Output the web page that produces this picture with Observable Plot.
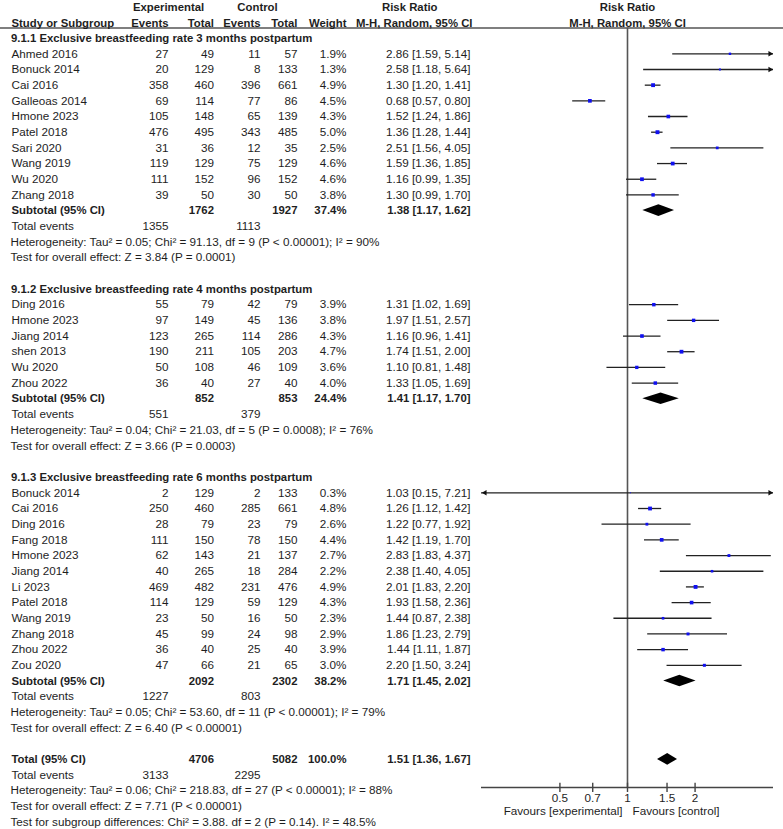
<!DOCTYPE html>
<html><head><meta charset="utf-8">
<script src="https://cdn.jsdelivr.net/npm/d3@7"></script>
<script src="https://cdn.jsdelivr.net/npm/@observablehq/plot@0.6"></script>
<style>
body{margin:0;background:#fff}
#chart svg{display:block;font-family:"Liberation Sans",Arial,sans-serif}
</style>
</head><body><div id="chart"></div>
<script>
// ---------------- DATA ----------------
const groupLabels = [
  "9.1.1 Exclusive breastfeeding rate 3 months postpartum",
  "9.1.2 Exclusive breastfeeding rate 4 months postpartum",
  "9.1.3 Exclusive breastfeeding rate 6 months postpartum"
];
const studyGroup = [0,0,0,0,0,0,0,0,0,0, 1,1,1,1,1,1, 2,2,2,2,2,2,2,2,2,2,2,2];
const studyNames = [
  "Ahmed 2016","Bonuck 2014","Cai 2016","Galleoas 2014","Hmone 2023","Patel 2018","Sari 2020","Wang 2019","Wu 2020","Zhang 2018",
  "Ding 2016","Hmone 2023","Jiang 2014","shen 2013","Wu 2020","Zhou 2022",
  "Bonuck 2014","Cai 2016","Ding 2016","Fang 2018","Hmone 2023","Jiang 2014","Li 2023","Patel 2018","Wang 2019","Zhang 2018","Zhou 2022","Zou 2020"
];
const expEvents = [27,20,358,69,105,476,31,119,111,39, 55,97,123,190,50,36, 2,250,28,111,62,40,469,114,23,45,36,47];
const expTotal  = [49,129,460,114,148,495,36,129,152,50, 79,149,265,211,108,40, 129,460,79,150,143,265,482,129,50,99,40,66];
const ctlEvents = [11,8,396,77,65,343,12,75,96,30, 42,45,114,105,46,27, 2,285,23,78,21,18,231,59,16,24,25,21];
const ctlTotal  = [57,133,661,86,139,485,35,129,152,50, 79,136,286,203,109,40, 133,661,79,150,137,284,476,129,50,98,40,65];
const weights   = [1.9,1.3,4.9,4.5,4.3,5.0,2.5,4.6,4.6,3.8, 3.9,3.8,4.3,4.7,3.6,4.0, 0.3,4.8,2.6,4.4,2.7,2.2,4.9,4.3,2.3,2.9,3.9,3.0];
const riskRatio = [2.86,2.58,1.30,0.68,1.52,1.36,2.51,1.59,1.16,1.30, 1.31,1.97,1.16,1.74,1.10,1.33, 1.03,1.26,1.22,1.42,2.83,2.38,2.01,1.93,1.44,1.86,1.44,2.20];
const ciLow     = [1.59,1.18,1.20,0.57,1.24,1.28,1.56,1.36,0.99,0.99, 1.02,1.51,0.96,1.51,0.81,1.05, 0.15,1.12,0.77,1.19,1.83,1.40,1.83,1.58,0.87,1.23,1.11,1.50];
const ciHigh    = [5.14,5.64,1.41,0.80,1.86,1.44,4.05,1.85,1.35,1.70, 1.69,2.57,1.41,2.00,1.48,1.69, 7.21,1.42,1.92,1.70,4.37,4.05,2.20,2.36,2.38,2.79,1.87,3.24];

const subExpTotal    = [1762, 852, 2092];
const subCtlTotal    = [1927, 853, 2302];
const subWeight      = [37.4, 24.4, 38.2];
const subRR          = [1.38, 1.41, 1.71];
const subLow         = [1.17, 1.17, 1.45];
const subHigh        = [1.62, 1.70, 2.02];
const subExpEvents   = [1355, 551, 1227];
const subCtlEvents   = [1113, 379, 803];
const subHeterogeneity = [
  "Heterogeneity: Tau² = 0.05; Chi² = 91.13, df = 9 (P < 0.00001); I² = 90%",
  "Heterogeneity: Tau² = 0.04; Chi² = 21.03, df = 5 (P = 0.0008); I² = 76%",
  "Heterogeneity: Tau² = 0.05; Chi² = 53.60, df = 11 (P < 0.00001); I² = 79%"
];
const subOverall = [
  "Test for overall effect: Z = 3.84 (P = 0.0001)",
  "Test for overall effect: Z = 3.66 (P = 0.0003)",
  "Test for overall effect: Z = 6.40 (P < 0.00001)"
];
const totalValues = [4706, 5082, 100.0, 1.51, 1.36, 1.67]; // exp total, ctl total, weight, RR, low, high
const totalEvents = [3133, 2295];
const totalNotes = [
  "Heterogeneity: Tau² = 0.06; Chi² = 218.83, df = 27 (P < 0.00001); I² = 88%",
  "Test for overall effect: Z = 7.71 (P < 0.00001)",
  "Test for subgroup differences: Chi² = 3.88. df = 2 (P = 0.14). I² = 48.5%"
];
const xTicks = [0.5, 0.7, 1, 1.5, 2];
const xLimit = 4.47;
const favourLabels = ["Favours [experimental]", "Favours [control]"];

// ---------------- LAYOUT ----------------
const W = 783, H = 829;
const FS = 11.7, FSB = 11.35;
const TEXT = "#1e1e1e";
const cols = {
  section: {dx: 10.5, anchor: "start"},
  name:    {dx: 11,   anchor: "start"},
  note:    {dx: 10,   anchor: "start"},
  expE:    {dx: 168,  anchor: "end"},
  expT:    {dx: 213.5,anchor: "end"},
  ctlE:    {dx: 260,  anchor: "end"},
  ctlT:    {dx: 297,  anchor: "end"},
  weight:  {dx: 346,  anchor: "end"},
  rr:      {dx: 470,  anchor: "end"},
  expHead: {dx: 168,  anchor: "middle"},
  ctlHead: {dx: 257,  anchor: "middle"},
  rrHead1: {dx: 437,  anchor: "end"},
  rrHead2: {dx: 472,  anchor: "end"}
};
const f2 = d3.format(".2f"), f1 = d3.format(".1f");
const rrText = (m, l, h) => `${f2(m)} [${f2(l)}, ${f2(h)}]`;

const texts = [];
const studies = [];
const diamonds = [];
const put = (row, col, text, bold = false) => texts.push({row, col, text: String(text), bold});

// headers
put(-2.97, "expHead", "Experimental", true);
put(-2.97, "ctlHead", "Control", true);
put(-2.97, "rrHead1", "Risk Ratio", true);
put(-1.95, "name", "Study or Subgroup", true);
put(-1.95, "expE", "Events", true);
put(-1.95, "expT", "Total", true);
put(-1.95, "ctlE", "Events", true);
put(-1.95, "ctlT", "Total", true);
put(-1.95, "weight", "Weight", true);
put(-1.95, "rrHead2", "M-H, Random, 95% CI", true);

let r = -1;
groupLabels.forEach((g, gi) => {
  put(r, "section", g, true); r++;
  studyNames.forEach((n, i) => {
    if (studyGroup[i] !== gi) return;
    put(r, "name", n);
    put(r, "expE", expEvents[i]); put(r, "expT", expTotal[i]);
    put(r, "ctlE", ctlEvents[i]); put(r, "ctlT", ctlTotal[i]);
    put(r, "weight", f1(weights[i]) + "%");
    put(r, "rr", rrText(riskRatio[i], ciLow[i], ciHigh[i]));
    studies.push({row: r, m: riskRatio[i], lo: ciLow[i], hi: ciHigh[i], w: weights[i]});
    r++;
  });
  put(r, "name", "Subtotal (95% CI)", true);
  put(r, "expT", subExpTotal[gi], true); put(r, "ctlT", subCtlTotal[gi], true);
  put(r, "weight", f1(subWeight[gi]) + "%", true);
  put(r, "rr", rrText(subRR[gi], subLow[gi], subHigh[gi]), true);
  diamonds.push({row: r, m: subRR[gi], lo: subLow[gi], hi: subHigh[gi], id: "g" + gi});
  r++;
  put(r, "name", "Total events"); put(r, "expE", subExpEvents[gi]); put(r, "ctlE", subCtlEvents[gi]); r++;
  put(r, "note", subHeterogeneity[gi]); r++;
  put(r, "note", subOverall[gi]); r++;
  r++;
});
put(r, "name", "Total (95% CI)", true);
put(r, "expT", totalValues[0], true); put(r, "ctlT", totalValues[1], true);
put(r, "weight", f1(totalValues[2]) + "%", true);
put(r, "rr", rrText(totalValues[3], totalValues[4], totalValues[5]), true);
diamonds.push({row: r, m: totalValues[3], lo: totalValues[4], hi: totalValues[5], id: "tot"});
r++;
put(r, "name", "Total events"); put(r, "expE", totalEvents[0]); put(r, "ctlE", totalEvents[1]); r++;
totalNotes.forEach(t => { put(r, "note", t); r++; });

const xMin = 1 / xLimit, xMax = xLimit;
const headerLineRow = -1.645, axisRow = 46.79;
const dHalf = 0.37;
const diamondPts = diamonds.flatMap(d => [
  {id: d.id, x: d.lo, y1: d.row, y2: d.row},
  {id: d.id, x: d.m, y1: d.row - dHalf, y2: d.row + dHalf},
  {id: d.id, x: d.hi, y1: d.row, y2: d.row}
]);
const rightArrows = studies.filter(s => s.hi > xMax);
const leftArrows = studies.filter(s => s.lo < xMin);

const textMarks = [];
for (const [key, c] of Object.entries(cols)) {
  for (const bold of [false, true]) {
    const data = texts.filter(t => t.col === key && t.bold === bold);
    if (!data.length) continue;
    textMarks.push(Plot.text(data, {
      y: "row", text: "text", frameAnchor: "left", dx: c.dx, textAnchor: c.anchor,
      fontWeight: bold ? "bold" : "normal", fill: TEXT, fontSize: bold ? FSB : FS
    }));
  }
}

const chart = Plot.plot({
  width: W, height: H,
  marginLeft: 0, marginRight: 0, marginTop: 0, marginBottom: 0,
  x: {type: "log", domain: [xMin, xMax], range: [481, 773], axis: null},
  y: {type: "linear", domain: [0, 49], range: [53.3, 821.6], axis: null},
  r: {type: "sqrt", domain: [0, 5], range: [0, 2.2]},
  style: {fontFamily: '"Liberation Sans", Arial, sans-serif', fontSize: FS + "px", color: TEXT},
  marks: [
    Plot.ruleY([headerLineRow], {stroke: "#555", strokeWidth: 1.4}),
    Plot.ruleX([1], {y1: headerLineRow, y2: axisRow, stroke: "#555", strokeWidth: 1.6}),
    // CI lines
    Plot.ruleY(studies, {y: "row", x1: d => Math.max(d.lo, xMin), x2: d => Math.min(d.hi, xMax), stroke: "#222", strokeWidth: 1.3}),
    Plot.dot(rightArrows, {x: () => xMax, y: "row", symbol: "triangle2", rotate: 90, r: 2.6, dx: -3.5, fill: "#111", stroke: "none"}),
    Plot.dot(leftArrows, {x: () => xMin, y: "row", symbol: "triangle2", rotate: -90, r: 2.6, dx: 3.5, fill: "#111", stroke: "none"}),
    Plot.dot(studies, {x: "m", y: "row", r: "w", symbol: "square", fill: "#1010f0", stroke: "none"}),
    Plot.areaY(diamondPts, {x: "x", y1: "y1", y2: "y2", z: "id", fill: "#000", curve: "linear"}),
    // axis
    Plot.ruleY([axisRow], {x1: xMin, x2: xMax, stroke: "#444", strokeWidth: 1.4}),
    Plot.ruleX(xTicks, {x: d => d, y1: axisRow - 0.27, y2: axisRow + 0.32, stroke: "#444", strokeWidth: 1.4}),
    Plot.text(xTicks, {x: d => d, y: 47.49, text: d => String(d), fill: TEXT, fontSize: FS}),
    Plot.text([favourLabels[0]], {x: () => 1, y: 48.32, text: d => d, textAnchor: "end", dx: -5, fill: TEXT, fontSize: FS}),
    Plot.text([favourLabels[1]], {x: () => 1, y: 48.32, text: d => d, textAnchor: "start", dx: 5, fill: TEXT, fontSize: FS}),
    // plot headers
    Plot.text(["Risk Ratio"], {x: () => 1, y: () => -2.97, text: d => d, fontWeight: "bold", fill: TEXT, fontSize: FSB}),
    Plot.text(["M-H, Random, 95% CI"], {x: () => 1, y: () => -1.95, text: d => d, fontWeight: "bold", fill: TEXT, fontSize: FSB}),
    ...textMarks
  ]
});
document.getElementById("chart").appendChild(chart);
</script>
</body></html>
